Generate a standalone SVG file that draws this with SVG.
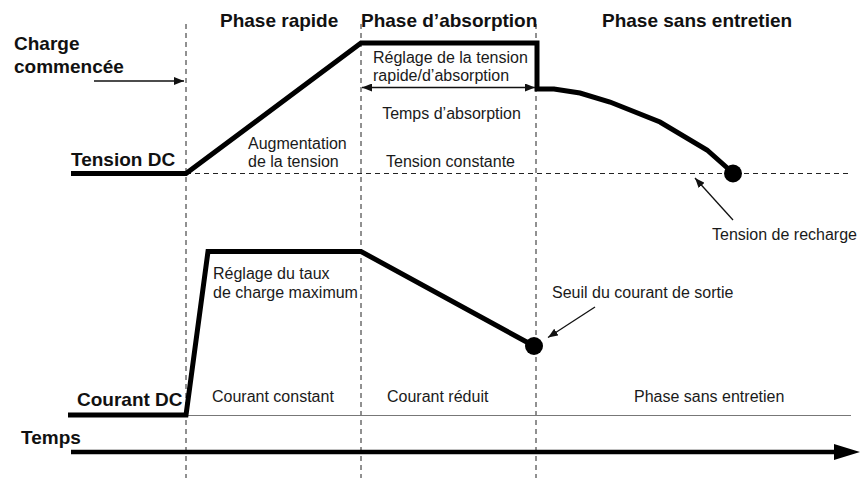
<svg xmlns="http://www.w3.org/2000/svg" width="861" height="478" viewBox="0 0 861 478">
  <defs>
    <marker id="tip" viewBox="0 0 10 8" refX="10" refY="4" markerWidth="10" markerHeight="8" markerUnits="userSpaceOnUse" orient="auto-start-reverse">
      <path d="M0,0 L10,4 L0,8 Z" fill="#111"/>
    </marker>
  </defs>
  <style>
    .bold { font-family: "Liberation Sans", Arial, sans-serif; font-weight: bold; font-size: 19px; fill: #111; }
    .txt { font-family: "Liberation Sans", Arial, sans-serif; font-size: 16px; fill: #1a1a1a; }
    .guide { stroke: #222; stroke-width: 1; stroke-dasharray: 5 4; fill: none; }
    .trace { stroke: #000; stroke-width: 5; fill: none; stroke-linejoin: miter; }
    .pointer { stroke: #111; stroke-width: 1.3; fill: none; }
  </style>
  <rect width="861" height="478" fill="#fff"/>

  <!-- phase boundaries and recharge voltage level -->
  <g id="guides">
    <line class="guide" x1="186" y1="24" x2="186" y2="478"/>
    <line class="guide" x1="361" y1="24" x2="361" y2="478"/>
    <line class="guide" x1="536" y1="24" x2="536" y2="478"/>
    <line class="guide" x1="186" y1="173.5" x2="850" y2="173.5"/>
    <line x1="186" y1="415.5" x2="851" y2="415.5" stroke="#777" stroke-width="1"/>
  </g>

  <!-- phase headers -->
  <g id="headers">
    <text class="bold" x="220" y="27">Phase rapide</text>
    <text class="bold" x="361" y="27">Phase d’absorption</text>
    <text class="bold" x="602" y="27">Phase sans entretien</text>
  </g>

  <!-- voltage trace -->
  <g id="voltage">
    <text class="bold" x="71" y="166">Tension DC</text>
    <polyline class="trace" points="71,173.5 186,173.5 361,43 537,43 537,89 554,89 580,93 610,102 660,122 707,150 733,173"/>
    <circle cx="733" cy="173.5" r="9" fill="#000"/>
  </g>

  <!-- current trace -->
  <g id="current">
    <text class="bold" x="77" y="406">Courant DC</text>
    <polyline class="trace" points="68,415 186,415 208,251.5 361,251.5 534,346"/>
    <circle cx="534" cy="346" r="9" fill="#000"/>
  </g>

  <!-- time axis -->
  <g id="time-axis">
    <text class="bold" x="21" y="444">Temps</text>
    <line x1="71" y1="452" x2="836" y2="452" stroke="#000" stroke-width="4.5"/>
    <polygon points="834,444 860,452 834,460" fill="#000"/>
  </g>

  <!-- start marker -->
  <g id="start">
    <text class="bold" x="14" y="50">Charge</text>
    <text class="bold" x="14" y="73">commencée</text>
  </g>

  <!-- annotations -->
  <g id="labels">
    <text class="txt" x="373" y="63">Réglage de la tension</text>
    <text class="txt" x="373" y="81">rapide/d’absorption</text>
    <text class="txt" x="451.5" y="119" text-anchor="middle">Temps d’absorption</text>
    <text class="txt" x="248" y="149">Augmentation</text>
    <text class="txt" x="248" y="167">de la tension</text>
    <text class="txt" x="450.5" y="167" text-anchor="middle">Tension constante</text>
    <text class="txt" x="712" y="240">Tension de recharge</text>
    <text class="txt" x="213" y="279">Réglage du taux</text>
    <text class="txt" x="213" y="298">de charge maximum</text>
    <text class="txt" x="552" y="298">Seuil du courant de sortie</text>
    <text class="txt" x="212" y="402">Courant constant</text>
    <text class="txt" x="387" y="402">Courant réduit</text>
    <text class="txt" x="634" y="402">Phase sans entretien</text>
  </g>

  <!-- connectors -->
  <g id="connectors">
    <line class="pointer" x1="94" y1="81" x2="184" y2="81" marker-end="url(#tip)"/>
    <line class="pointer" x1="362" y1="87.5" x2="535" y2="87.5" marker-start="url(#tip)" marker-end="url(#tip)"/>
    <line class="pointer" x1="733" y1="220" x2="695" y2="178" marker-end="url(#tip)"/>
    <line class="pointer" x1="595" y1="307" x2="548" y2="337.5" marker-end="url(#tip)"/>
  </g>
</svg>
